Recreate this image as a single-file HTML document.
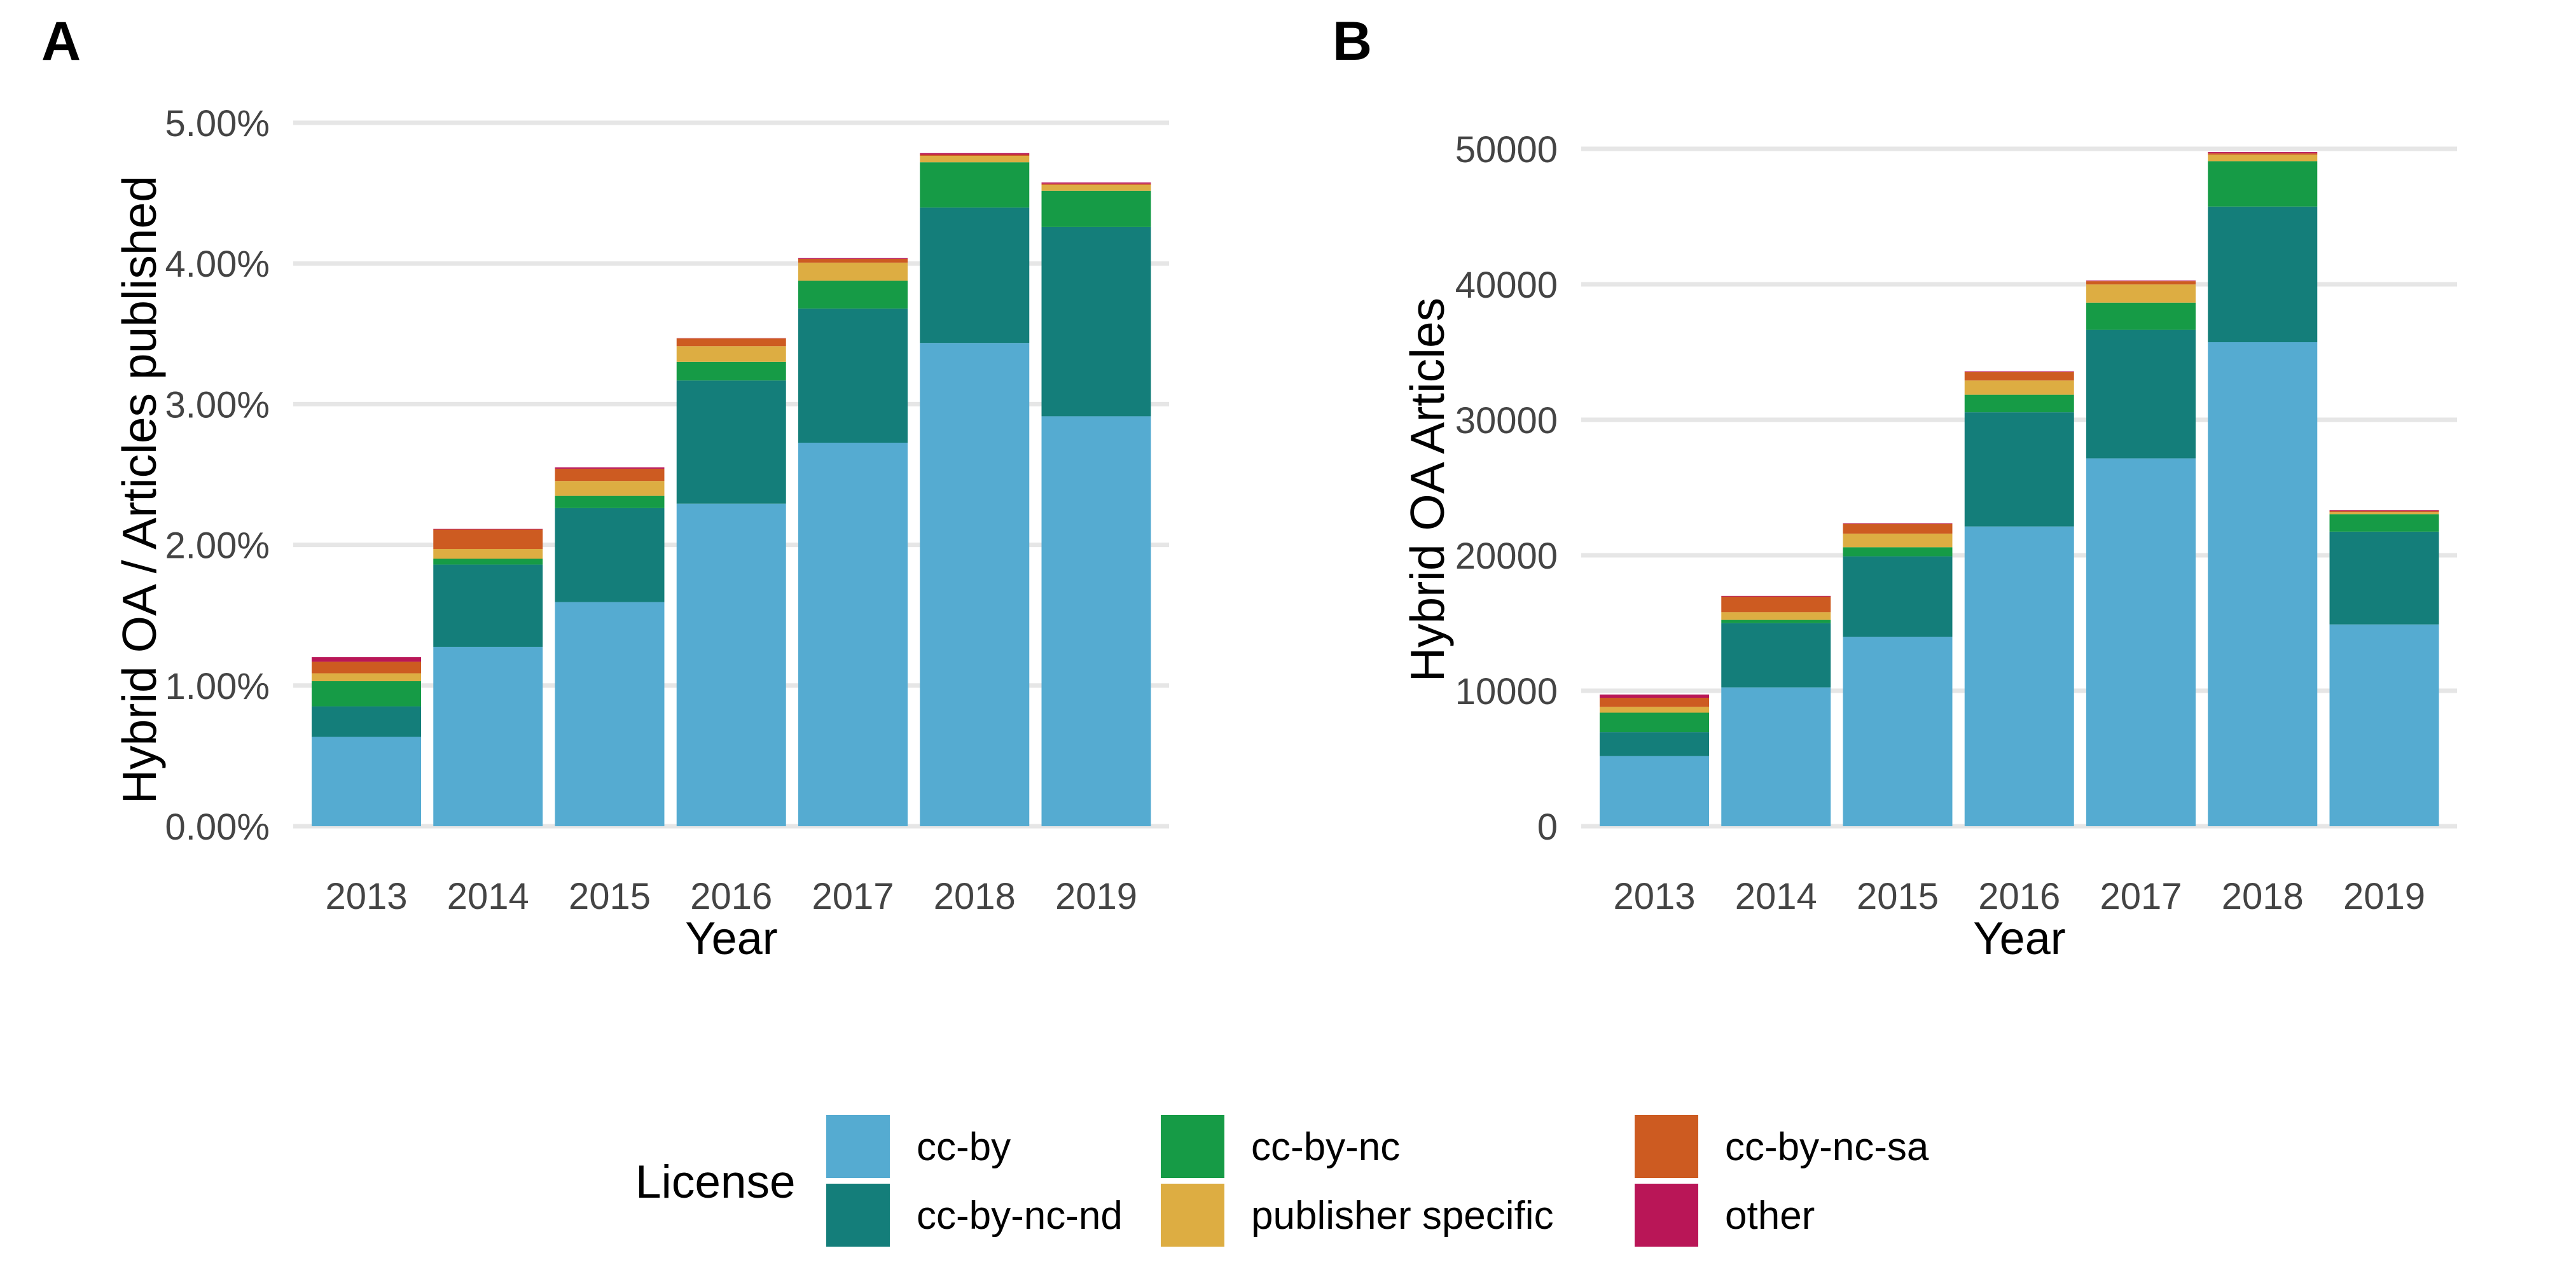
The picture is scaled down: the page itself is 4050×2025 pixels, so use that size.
<!DOCTYPE html>
<html><head><meta charset="utf-8"><style>
html,body{margin:0;padding:0;background:#fff;}
svg{display:block;font-family:"Liberation Sans",sans-serif;}
</style></head><body>
<svg id="chart" width="4050" height="2025" viewBox="0 0 4050 2025" xmlns="http://www.w3.org/2000/svg">
<rect width="4050" height="2025" fill="#fff"/>
</svg>
<script>
const years = ["2013","2014","2015","2016","2017","2018","2019"];
const licenses = ["cc-by","cc-by-nc-nd","cc-by-nc","publisher specific","cc-by-nc-sa","other"];
const colors = ["#55abd1","#147e7a","#169b46","#ddad42","#cd5b21","#b91657"];
// Panel A: cumulative tops (percent) per license, per year
const shareCcBy   = [0.635,1.275,1.593,2.293,2.726,3.435,2.914];
const shareNcNd   = [0.217,0.585,0.668,0.875,0.953,0.962,1.345];
const shareNc     = [0.179,0.041,0.087,0.133,0.198,0.322,0.258];
const sharePub    = [0.056,0.070,0.106,0.111,0.129,0.046,0.041];
const shareNcSa   = [0.082,0.138,0.087,0.055,0.027,0.009,0.009];
const shareOther  = [0.033,0.004,0.010,0.002,0.005,0.010,0.009];
const yTicksA = [0,1,2,3,4,5];
const yTickLabelsA = ["0.00%","1.00%","2.00%","3.00%","4.00%","5.00%"];
// Panel B: article counts
const countCcBy   = [5172,10249,13985,22126,27155,35728,14895];
const countNcNd   = [1772,4741,5938,8430,9483,10010,6848];
const countNc     = [1437,240,671,1293,2011,3352,1293];
const countPub    = [431,575,1006,1053,1341,479,144];
const countNcSa   = [671,1149,718,623,240,96,96];
const countOther  = [239,48,48,48,48,96,48];
const yTicksB = [0,10000,20000,30000,40000,50000];
const yTickLabelsB = ["0","10000","20000","30000","40000","50000"];

const NS="http://www.w3.org/2000/svg";
const svg=document.getElementById("chart");
function mk(tag,attrs,parent){const e=document.createElementNS(NS,tag);for(const k in attrs)e.setAttribute(k,attrs[k]);(parent||svg).appendChild(e);return e;}

function panel(offset, series, yMax, ticks, tickLabels, title, letter, pfx){
  const g=mk("g",{});
  
  
  const y0=1299, yTop=(pfx==="a")?193:234;
  const tickMax=ticks[ticks.length-1];
  const yScale=v=>y0-(v/tickMax)*(y0-yTop);
  const xCenter=i=>offset+576+i*191.25;
  const bw=172;
  ticks.forEach((t,i)=>{
    const ln=mk("line",{x1:offset+461,x2:offset+1838,y1:yScale(t),y2:yScale(t),stroke:"#e6e6e6","stroke-width":7},g);
    
    
    const tx=mk("text",{x:offset+424,y:yScale(t)+21,"text-anchor":"end","font-size":58,fill:"#444"},g);
    tx.textContent=tickLabels[i];
    
    
  });
  years.forEach((yr,i)=>{
    let cum=0;
    series.forEach((s,j)=>{
      const v=s[i];
      const r=mk("rect",{x:xCenter(i)-bw/2,y:yScale(cum+v),width:bw,height:Math.max(0,yScale(cum)-yScale(cum+v)),fill:colors[j]},g);
      
      
      cum+=v;
    });
    const tx=mk("text",{x:xCenter(i),y:1429,"text-anchor":"middle","font-size":58,fill:"#444"},g);
    tx.textContent=yr;
    
    
  });
  const xt=mk("text",{x:offset+1150,y:1500,"text-anchor":"middle","font-size":72,fill:"#000"},g);
  xt.textContent="Year";
  
  
  const yt=mk("text",{x:0,y:0,transform:"translate("+(offset+245)+",770) rotate(-90)","text-anchor":"middle","font-size":75,fill:"#000"},g);
  yt.textContent=title;
  
  
  const lt=mk("text",{x:offset+(pfx==="a"?65:70),y:94,"font-size":86,"font-weight":"bold",fill:"#000"},g);
  lt.textContent=letter;
  
  
}
panel(0,[shareCcBy,shareNcNd,shareNc,sharePub,shareNcSa,shareOther],5,yTicksA,yTickLabelsA,"Hybrid OA / Articles published","A","a");
panel(2025,[countCcBy,countNcNd,countNc,countPub,countNcSa,countOther],50000,yTicksB,yTickLabelsB,"Hybrid OA Articles","B","b");

// Legend
const lg=mk("g",{});


const ltitle=mk("text",{x:999,y:1883,"font-size":73,fill:"#000"},lg);
ltitle.textContent="License";


const colX=[1299,1825,2570], txtX=[1441,1967,2712], rowY=[1753,1861], baseY=[1824,1932];
licenses.forEach((l,k)=>{
  const c=Math.floor(k/2), r=k%2;
  const key=mk("rect",{x:colX[c],y:rowY[r],width:100,height:99,fill:colors[k]},lg);
  
  
  const t=mk("text",{x:txtX[c],y:baseY[r],"font-size":62,fill:"#000"},lg);
  t.textContent=l;
  
  
});
</script>
</body></html>
